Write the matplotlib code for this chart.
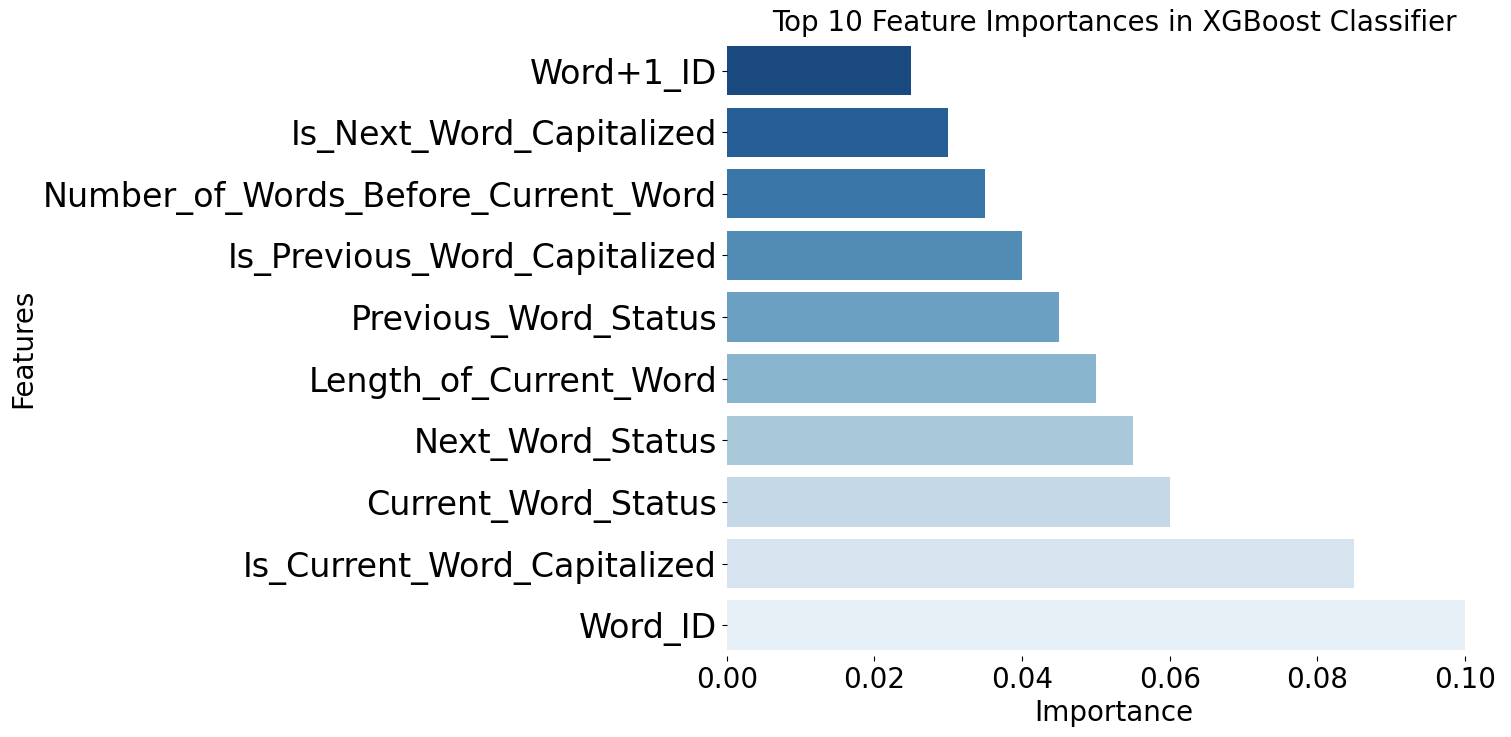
import matplotlib
matplotlib.use("Agg")
import matplotlib.pyplot as plt
import seaborn as sns
import pandas as pd

# top 10 features, smallest first (drawn top to bottom)
features = [
    "Word+1_ID",
    "Is_Next_Word_Capitalized",
    "Number_of_Words_Before_Current_Word",
    "Is_Previous_Word_Capitalized",
    "Previous_Word_Status",
    "Length_of_Current_Word",
    "Next_Word_Status",
    "Current_Word_Status",
    "Is_Current_Word_Capitalized",
    "Word_ID",
]
importances = [0.025, 0.030, 0.035, 0.040, 0.045, 0.050, 0.055, 0.060, 0.085, 0.100]

df = pd.DataFrame({"Feature": features, "Importance": importances})

fig = plt.figure(figsize=(15.11, 7.37), dpi=100)
ax = fig.add_axes([0.481, 0.110, 0.5129, 0.836])

sns.barplot(data=df, x="Importance", y="Feature", hue="Feature",
            palette="Blues_r", legend=False, ax=ax)

ax.set_title("Top 10 Feature Importances in XGBoost Classifier", fontsize=20)
ax.set_xlabel("Importance", fontsize=20)
ax.set_ylabel("Features", fontsize=20)
ax.tick_params(axis="y", labelsize=24)
ax.tick_params(axis="x", labelsize=20)
for s in ax.spines.values():
    s.set_visible(False)

fig.savefig("out.png", dpi=100)
